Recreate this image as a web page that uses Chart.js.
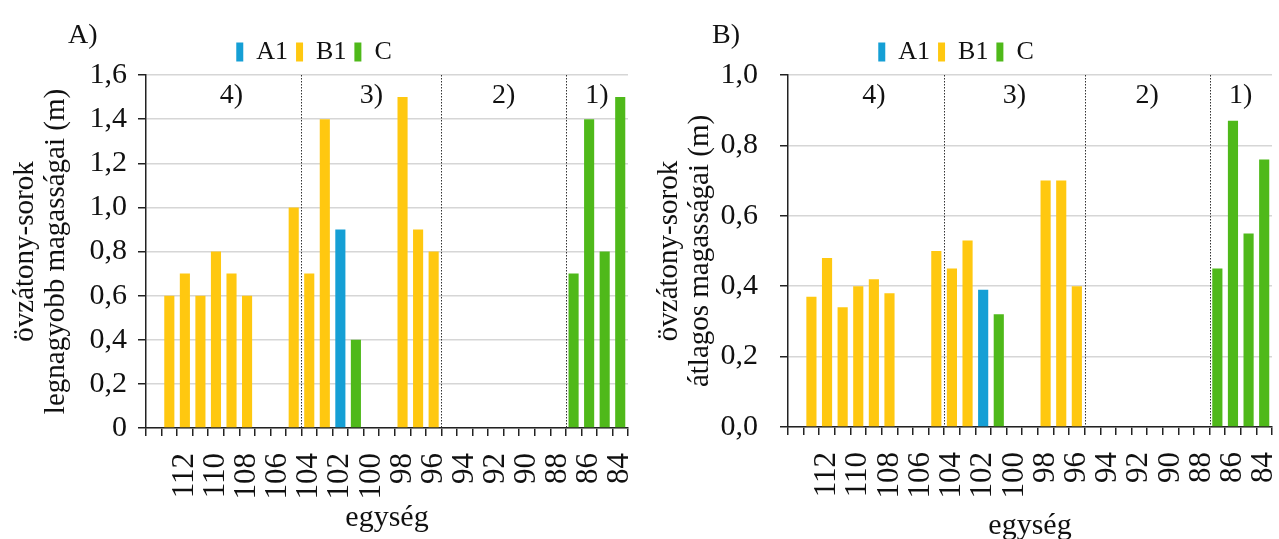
<!DOCTYPE html>
<html>
<head>
<meta charset="utf-8">
<script src="https://cdn.jsdelivr.net/npm/chart.js@4.4.1/dist/chart.umd.min.js"></script>
<style>
  html, body { margin: 0; padding: 0; background: #fff; }
  #wrap { position: relative; width: 1279px; height: 539px; }
  #chartA { position: absolute; left: 0; top: 0; }
  #chartB { position: absolute; left: 640px; top: 0; }
</style>
</head>
<body>
<div id="wrap">
  <canvas id="chartA" width="640" height="539"></canvas>
  <canvas id="chartB" width="639" height="539"></canvas>
</div>
<script>
// egység (units), from 114 down to 84
const units = [114, 113, 112, 111, 110, 109, 108, 107, 106, 105, 104, 103, 102, 101, 100,
  99, 98, 97, 96, 95, 94, 93, 92, 91, 90, 89, 88, 87, 86, 85, 84];
const unitLabels = ['', '', '112', '', '110', '', '108', '', '106', '', '104', '', '102', '', '100',
  '', '98', '', '96', '', '94', '', '92', '', '90', '', '88', '', '86', '', '84'];

// A) legnagyobb magasság (m)
const maxA1 = [null, null, null, null, null, null, null, null, null, null, null, null, 0.9, null, null,
  null, null, null, null, null, null, null, null, null, null, null, null, null, null, null, null];
const maxB1 = [null, 0.6, 0.7, 0.6, 0.8, 0.7, 0.6, null, null, 1.0, 0.7, 1.4, null, null, null,
  null, 1.5, 0.9, 0.8, null, null, null, null, null, null, null, null, null, null, null, null];
const maxC = [null, null, null, null, null, null, null, null, null, null, null, null, null, 0.4, null,
  null, null, null, null, null, null, null, null, null, null, null, null, 0.7, 1.4, 0.8, 1.5];

// B) átlagos magasság (m)
const avgA1 = [null, null, null, null, null, null, null, null, null, null, null, null, 0.39, null, null,
  null, null, null, null, null, null, null, null, null, null, null, null, null, null, null, null];
const avgB1 = [null, 0.37, 0.48, 0.34, 0.40, 0.42, 0.38, null, null, 0.50, 0.45, 0.53, null, null, null,
  null, 0.70, 0.70, 0.40, null, null, null, null, null, null, null, null, null, null, null, null];
const avgC = [null, null, null, null, null, null, null, null, null, null, null, null, null, 0.32, null,
  null, null, null, null, null, null, null, null, null, null, null, null, 0.45, 0.87, 0.55, 0.76];

// zones 4) 3) 2) 1) and their borders (category index)
const zoneNames = ['4)', '3)', '2)', '1)'];
const zoneCenters = [5, 14, 22.5, 28.5];
const zoneBorders = [9.5, 18.5, 26.5];

const colA1 = '#159fd5';
const colB1 = '#ffc810';
const colC = '#4fb91a';

const SERIF = '"Liberation Serif", "Times New Roman", serif';
Chart.defaults.font.family = SERIF;
Chart.defaults.color = '#111';

const panelMarks = {
  id: 'panelMarks',
  beforeDatasetsDraw(chart, args, opts) {
    const { ctx, chartArea, scales: { x } } = chart;
    ctx.save();
    ctx.strokeStyle = '#333';
    ctx.lineWidth = 1;
    ctx.setLineDash([1.5, 1.5]);
    zoneBorders.forEach(b => {
      const px = Math.round(x.getPixelForValue(b)) + 0.5;
      ctx.beginPath();
      ctx.moveTo(px, chartArea.top);
      ctx.lineTo(px, chartArea.bottom);
      ctx.stroke();
    });
    ctx.setLineDash([]);
    ctx.fillStyle = '#111';
    ctx.font = '28px ' + SERIF;
    ctx.textAlign = 'center';
    ctx.textBaseline = 'middle';
    zoneNames.forEach((z, i) => {
      ctx.fillText(z, x.getPixelForValue(zoneCenters[i]), chartArea.top + 21);
    });
    ctx.restore();
  },
  afterDraw(chart, args, opts) {
    const { ctx } = chart;
    ctx.save();
    ctx.fillStyle = '#111';
    ctx.font = '28px ' + SERIF;
    ctx.textAlign = 'left';
    ctx.textBaseline = 'middle';
    ctx.fillText(opts.letter, opts.letterX, 36);
    ctx.restore();
  }
};

function makeChart(id, p) {
  return new Chart(document.getElementById(id), {
    type: 'bar',
    data: {
      labels: units,
      datasets: [
        { label: 'A1', data: p.a1, backgroundColor: colA1 },
        { label: 'B1', data: p.b1, backgroundColor: colB1 },
        { label: 'C', data: p.c, backgroundColor: colC }
      ]
    },
    options: {
      responsive: false,
      animation: false,
      grouped: false,
      barPercentage: 0.65,
      categoryPercentage: 1.0,
      layout: { padding: { top: 31, right: p.padRight, left: 0, bottom: 0 } },
      plugins: {
        tooltip: { enabled: false },
        legend: {
          position: 'top',
          labels: {
            boxWidth: 7,
            boxHeight: 19,
            padding: 8,
            color: '#111',
            font: { size: 26, family: SERIF }
          }
        },
        panelMarks: { letter: p.letter, letterX: p.letterX }
      },
      scales: {
        x: {
          type: 'category',
          offset: true,
          afterFit: s => {
            s.height = p.xHeight;
            // rotated labels hang below, no side padding needed
            s.paddingLeft = 0;
            s.paddingRight = 0;
          },
          border: { color: '#222', width: 1.5 },
          grid: { offset: true, drawOnChartArea: false, drawTicks: true, tickLength: 8, color: '#222', tickColor: '#222', lineWidth: 1.5 },
          ticks: {
            autoSkip: false, maxRotation: 90, minRotation: 90, padding: 17,
            font: { size: 31, family: SERIF }, color: '#111',
            callback: (v, i) => unitLabels[i]
          },
          title: {
            display: true, text: 'egység', color: '#111',
            font: { size: 30, family: SERIF, lineHeight: 1 },
            padding: { top: 0, bottom: p.xTitlePad }
          }
        },
        y: {
          min: 0, max: p.max,
          afterFit: s => { s.width = p.yWidth; },
          border: { color: '#222', width: 1.5 },
          grid: { color: '#d6d6d6', lineWidth: 1.5, tickColor: '#222', tickLength: 8, drawTicks: true },
          ticks: {
            stepSize: 0.2, padding: p.yTickPad, color: '#111',
            font: { size: 30, family: SERIF },
            callback: v => p.zeroPlain && Math.abs(v) < 1e-9 ? '0' : Number(v).toFixed(1).replace('.', ',')
          },
          title: {
            display: true, text: p.yTitle, color: '#111',
            font: { size: 29, family: SERIF, lineHeight: 1.1 },
            padding: { top: p.yTitlePad, bottom: 0 }
          }
        }
      }
    },
    plugins: [panelMarks]
  });
}

makeChart('chartA', {
  a1: maxA1, b1: maxB1, c: maxC, max: 1.6, zeroPlain: true,
  yTitle: ['övzátony-sorok', 'legnagyobb magasságai (m)'],
  letter: 'A)', letterX: 68, padRight: 12,
  yWidth: 146, xHeight: 111, yTickPad: 11, yTitlePad: 9, xTitlePad: 6
});

makeChart('chartB', {
  a1: avgA1, b1: avgB1, c: avgC, max: 1.0, zeroPlain: false,
  yTitle: ['övzátony-sorok', 'átlagos magasságai (m)'],
  letter: 'B)', letterX: 72, padRight: 7,
  yWidth: 148, xHeight: 112, yTickPad: 22, yTitlePad: 13, xTitlePad: -2
});
</script>
</body>
</html>
